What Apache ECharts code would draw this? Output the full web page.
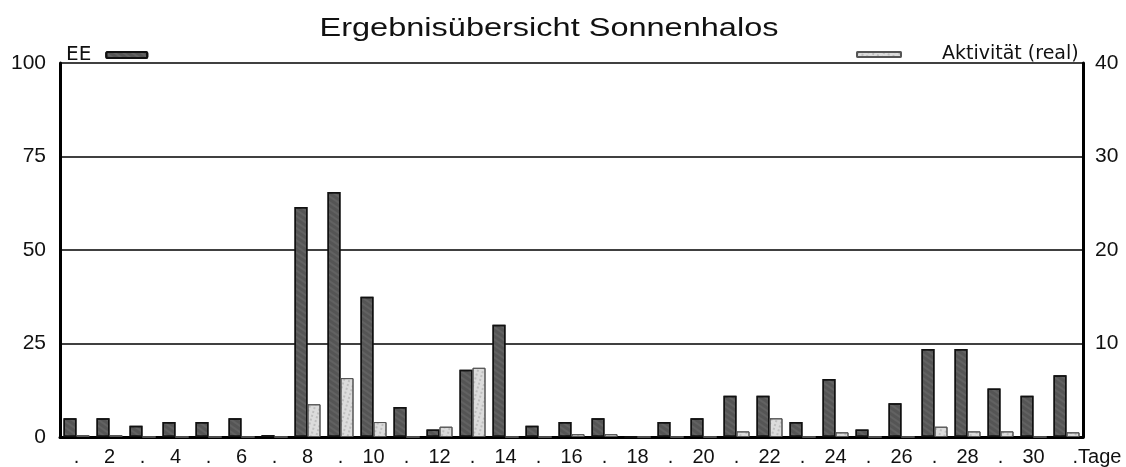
<!DOCTYPE html>
<html>
<head>
<meta charset="utf-8">
<script src="https://cdn.jsdelivr.net/npm/echarts@6/dist/echarts.min.js"></script>
<style>
  html, body { margin: 0; padding: 0; background: #fff; }
  #chart { width: 1126px; height: 467px; }
</style>
</head>
<body>
<div id="chart"></div>
<script>
  // Tage 1..31, gerade Tage beschriftet, ungerade nur mit Punkt
  var tage = ['.', '2', '.', '4', '.', '6', '.', '8', '.', '10', '.', '12', '.', '14', '.', '16',
              '.', '18', '.', '20', '.', '22', '.', '24', '.', '26', '.', '28', '.', '30', '.Tage'];

  // EE (linke Achse, 0-100)
  var eeWerte = [5, 5, 3, 4, 4, 5, 0.5, 61.5, 65.5, 37.5, 8, 2, 18, 30, 3, 4,
                 5, 0, 4, 5, 11, 11, 4, 15.5, 2, 9, 23.5, 23.5, 13, 11, 16.5];

  // Aktivität (real) (rechte Achse, 0-40)
  var aktivitaet = [0.2, 0.2, 0, 0, 0, 0, 0, 3.5, 6.3, 1.6, 0, 1.1, 7.4, 0, 0, 0.3,
                    0.3, 0, 0, 0, 0.6, 2, 0, 0.5, 0, 0, 1.1, 0.6, 0.6, 0, 0.5];

  var linksTicks = [0, 25, 50, 75, 100];
  var rechtsTicks = [0, 10, 20, 30, 40];

  var titel = 'Ergebnisübersicht Sonnenhalos';

  var font = 'Liberation Sans, Arial, sans-serif';
  var fontBreit = 'DejaVu Sans, sans-serif';

  var kategorien = tage.map(function (t, i) {
    if (i === tage.length - 1) {
      return { value: t, textStyle: { align: 'left', padding: [0, 0, 0, 6] } };
    }
    return t;
  });

  var chart = echarts.init(document.getElementById('chart'));
  chart.setOption({
    animation: false,
    backgroundColor: '#fff',
    // Titel ist im Original breit gezogen
    graphic: [{
      type: 'text',
      x: 549,
      y: 29,
      scaleX: 1.3,
      style: {
        text: titel,
        font: '25px ' + font,
        fill: '#111',
        align: 'center',
        verticalAlign: 'middle'
      }
    }],
    legend: [{
      data: ['EE'],
      left: 61,
      top: 40,
      align: 'right',
      itemWidth: 41,
      itemHeight: 6,
      textStyle: { fontFamily: fontBreit, fontSize: 20, color: '#111', padding: [0, 10, 0, 0] }
    }, {
      data: ['Aktivität (real)'],
      left: 851,
      top: 40,
      itemWidth: 44,
      itemHeight: 5,
      textStyle: { fontFamily: fontBreit, fontSize: 19, color: '#111', padding: [0, 0, 0, 36] }
    }],
    grid: { left: 60, right: 43, top: 63, bottom: 30 },
    xAxis: {
      type: 'category',
      data: kategorien,
      boundaryGap: true,
      axisLine: { lineStyle: { color: '#000', width: 3 } },
      axisTick: { show: false },
      axisLabel: { interval: 0, margin: 10, fontFamily: font, fontSize: 20, color: '#111' }
    },
    yAxis: [{
      type: 'value',
      min: linksTicks[0],
      max: linksTicks[linksTicks.length - 1],
      interval: 25,
      axisLine: { show: true, lineStyle: { color: '#000', width: 3 } },
      axisTick: { show: false },
      axisLabel: { margin: 14, fontFamily: font, fontSize: 21, color: '#111' },
      splitLine: { lineStyle: { color: '#000', width: 1.5 } }
    }, {
      type: 'value',
      min: rechtsTicks[0],
      max: rechtsTicks[rechtsTicks.length - 1],
      interval: 10,
      axisLine: { show: true, lineStyle: { color: '#000', width: 3 } },
      axisTick: { show: false },
      axisLabel: {
        margin: 12, fontFamily: font, fontSize: 21, color: '#111',
        formatter: function (v) { return v === 0 ? '' : v; }
      },
      splitLine: { show: false }
    }],
    series: [{
      name: 'EE',
      type: 'bar',
      yAxisIndex: 0,
      data: eeWerte,
      barWidth: 13,
      barGap: '0%',
      itemStyle: {
        color: '#555',
        borderColor: '#111',
        borderWidth: 1.5,
        decal: { symbol: 'rect', symbolSize: 0.5, dashArrayX: [1, 0], dashArrayY: [2, 3], color: 'rgba(210,210,210,0.4)', rotation: 0.6 }
      }
    }, {
      name: 'Aktivität (real)',
      type: 'bar',
      yAxisIndex: 1,
      data: aktivitaet,
      barWidth: 13,
      itemStyle: {
        color: '#dcdcdc',
        borderColor: '#555',
        borderWidth: 1,
        decal: { symbol: 'rect', symbolSize: 0.6, dashArrayX: [2, 3], dashArrayY: [2, 2], color: 'rgba(40,40,40,0.55)', rotation: 0.3 }
      }
    }]
  });
</script>
</body>
</html>
